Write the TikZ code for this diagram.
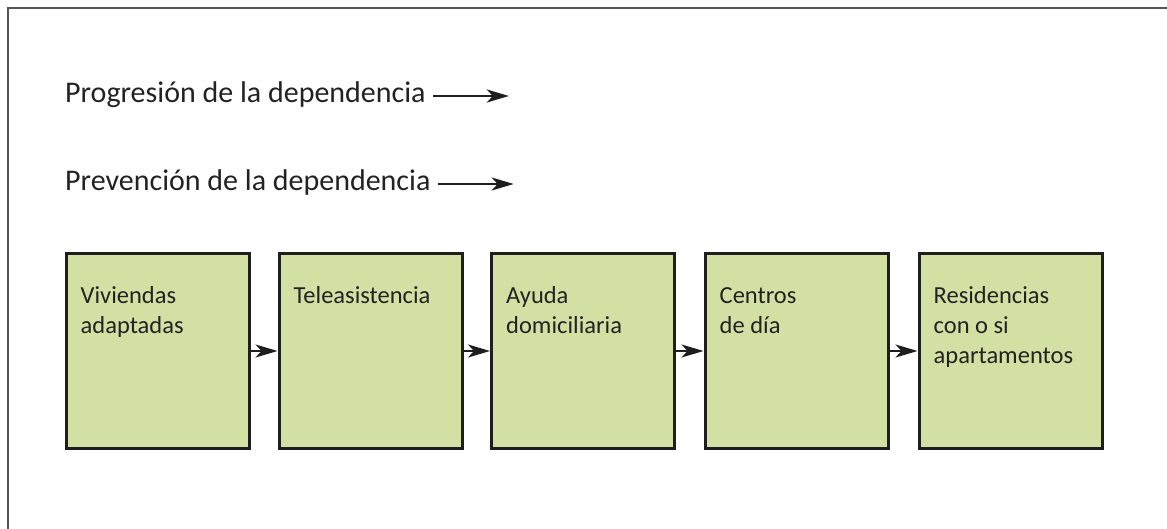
\documentclass[tikz,border=0pt]{standalone}
\usepackage{fontspec}
\setmainfont{Carlito}
\usetikzlibrary{arrows.meta}
\definecolor{boxgreen}{HTML}{D2E0A3}
\definecolor{boxline}{HTML}{1E1E1E}
\definecolor{txt}{HTML}{222222}
\definecolor{frame}{HTML}{555555}
\tikzset{
  stagebox/.style={draw=boxline, line width=3pt, fill=boxgreen, minimum width=183pt, minimum height=194pt, inner sep=0pt},
  stagetext/.style={anchor=north west, inner sep=0pt, align=left, text=txt, font=\fontsize{24.5}{30}\selectfont},
  headtext/.style={anchor=base west, inner sep=0pt, text=txt, font=\fontsize{30}{36}\selectfont},
  linkarrow/.style={draw=boxline, line width=2.4pt, -{Stealth[length=22pt,width=13pt,inset=6pt]}},
  headarrow/.style={draw=boxline, line width=2.4pt, -{Stealth[length=22pt,width=13pt,inset=6pt]}},
}
\begin{document}
\begin{tikzpicture}[x=1pt,y=-1pt]
\useasboundingbox (0,0) rectangle (1167,529);
% frame
\draw[frame, line width=2pt] (8,529) -- (8,8) -- (1167,8);
% header lines
\node[headtext] (h1) at (65,103) {Progresión de la dependencia};
\node[headtext] (h2) at (65,191) {Prevención de la dependencia};
\coordinate (h1s) at ([xshift=7pt,yshift=7pt]h1.base east);
\coordinate (h1e) at ([xshift=83pt,yshift=7pt]h1.base east);
\coordinate (h2s) at ([xshift=7pt,yshift=7pt]h2.base east);
\coordinate (h2e) at ([xshift=83pt,yshift=7pt]h2.base east);
\draw[headarrow] (h1s) -- (h1e);
\draw[headarrow] (h2s) -- (h2e);
% boxes
\node[stagebox] (b1) at (157.5,351) {};
\node[stagebox] (b2) at (370.5,351) {};
\node[stagebox] (b3) at (583,351) {};
\node[stagebox] (b4) at (796.5,351) {};
\node[stagebox] (b5) at (1010.5,351) {};
\node[stagetext] (t1) at ([xshift=16pt,yshift=-30pt]b1.north west) {\strut Viviendas\\adaptadas};
\node[stagetext] (t2) at ([xshift=16pt,yshift=-30pt]b2.north west) {\strut Teleasistencia};
\node[stagetext] (t3) at ([xshift=16pt,yshift=-30pt]b3.north west) {\strut Ayuda\\domiciliaria};
\node[stagetext] (t4) at ([xshift=16pt,yshift=-30pt]b4.north west) {\strut Centros\\de día};
\node[stagetext] (t5) at ([xshift=16pt,yshift=-30pt]b5.north west) {\strut Residencias\\con o si\\apartamentos};
% links
\draw[linkarrow] (b1.east) -- (b2.west);
\draw[linkarrow] (b2.east) -- (b3.west);
\draw[linkarrow] (b3.east) -- (b4.west);
\draw[linkarrow] (b4.east) -- (b5.west);
\end{tikzpicture}
\end{document}
